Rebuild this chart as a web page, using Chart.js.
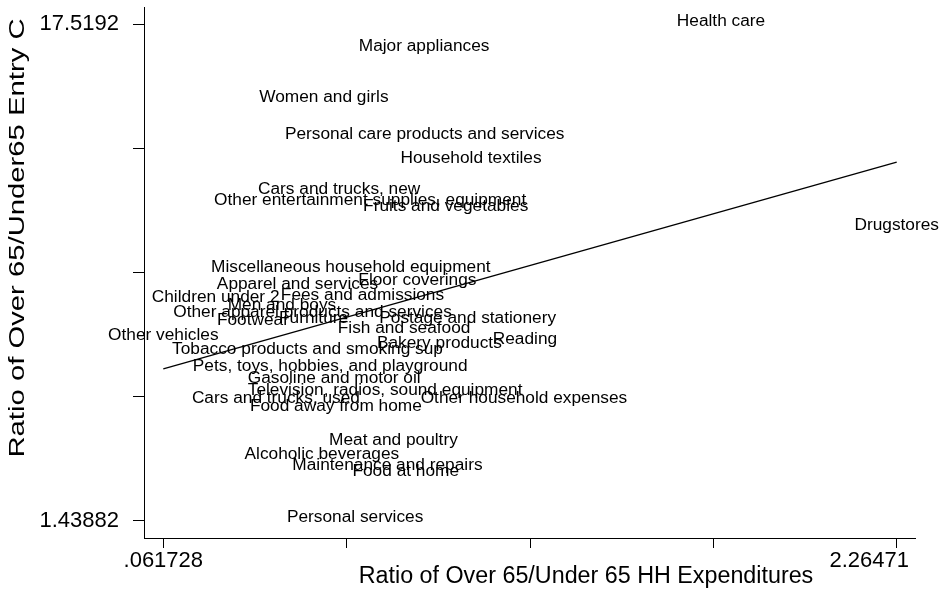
<!DOCTYPE html>
<html>
<head>
<meta charset="utf-8">
<script src="https://cdn.jsdelivr.net/npm/chart.js@4.4.1/dist/chart.umd.min.js"></script>
<style>
  html, body { margin: 0; padding: 0; background: #ffffff; }
  #wrap { width: 951px; height: 598px; position: relative; }
</style>
</head>
<body>
<div id="wrap"><canvas id="ratioChart" width="951" height="598"></canvas></div>
<script>
// categories and their (x, y) ratios
const categories = [
  'Health care', 'Major appliances', 'Women and girls', 'Personal care products and services',
  'Household textiles', 'Cars and trucks, new', 'Other entertainment supplies, equipment',
  'Fruits and vegetables', 'Drugstores', 'Miscellaneous household equipment', 'Floor coverings',
  'Apparel and services', 'Children under 2', 'Fees and admissions', 'Men and boys',
  'Other apparel products and services', 'Footwear', 'Furniture', 'Postage and stationery',
  'Fish and seafood', 'Reading', 'Other vehicles', 'Bakery products',
  'Tobacco products and smoking sup', 'Pets, toys, hobbies, and playground',
  'Gasoline and motor oil', 'Television, radios, sound equipment', 'Cars and trucks, used',
  'Other household expenses', 'Food away from home', 'Meat and poultry', 'Alcoholic beverages',
  'Maintenance and repairs', 'Food at home', 'Personal services'
];
const xValues = [
  1.737, 0.845, 0.544, 0.847, 0.986, 0.590, 0.683, 0.910, 2.26471, 0.625, 0.825,
  0.465, 0.219, 0.660, 0.418, 0.510, 0.331, 0.513, 0.976, 0.785, 1.148, 0.061728, 0.891,
  0.495, 0.563, 0.575, 0.728, 0.400, 1.145, 0.580, 0.753, 0.538, 0.735, 0.790, 0.638
];
const yValues = [
  17.5192, 16.69, 15.04, 13.84, 13.09, 12.06, 11.73, 11.51, 10.89, 9.53, 9.11,
  8.98, 8.56, 8.63, 8.33, 8.08, 7.82, 7.88, 7.91, 7.56, 7.23, 7.33, 7.10,
  6.88, 6.33, 5.94, 5.55, 5.29, 5.29, 5.03, 3.96, 3.48, 3.15, 2.93, 1.43882
];

// fitted line end points
const fitX = [0.061728, 2.26471];
const fitY = [6.36, 13.06];

// axis ticks (only the ends are labelled)
const xTicks = [0.061728, 0.612474, 1.163219, 1.713965, 2.26471];
const xTickLabels = ['.061728', '', '', '', '2.26471         '];
const yTicks = [1.43882, 5.45892, 9.47901, 13.49911, 17.5192];
const yTickLabels = ['1.43882', '', '', '', '17.5192'];

const FONT = "'Liberation Sans', Arial, Helvetica, sans-serif";

// draws each category name centred on its (invisible) point
const pointLabels = {
  id: 'pointLabels',
  afterDatasetsDraw(chart, args, opts) {
    const ctx = chart.ctx;
    const meta = chart.getDatasetMeta(0);
    ctx.save();
    ctx.font = opts.size + 'px ' + FONT;
    ctx.fillStyle = '#000';
    ctx.textAlign = 'center';
    ctx.textBaseline = 'middle';
    meta.data.forEach((pt, i) => {
      ctx.save();
      ctx.translate(pt.x, pt.y + opts.offsetY);
      ctx.scale(opts.stretch, 1);
      ctx.fillText(categories[i], 0, 0);
      ctx.restore();
    });
    ctx.restore();
  }
};

// axis titles sit off-centre in the original, so they are placed by hand
const axisTitles = {
  id: 'axisTitles',
  afterDraw(chart, args, opts) {
    const ctx = chart.ctx;
    const xt = chart.options.scales.x.title.text;
    const yt = chart.options.scales.y.title.text;
    ctx.save();
    ctx.fillStyle = '#000';
    ctx.textAlign = 'center';
    ctx.textBaseline = 'middle';
    ctx.font = opts.xSize + 'px ' + FONT;
    ctx.fillText(xt, opts.xPos[0], opts.xPos[1]);
    ctx.font = opts.ySize + 'px ' + FONT;
    ctx.translate(opts.yPos[0], opts.yPos[1]);
    ctx.rotate(-Math.PI / 2);
    ctx.scale(opts.yStretch, 1);
    ctx.fillText(yt, 0, 0);
    ctx.restore();
  }
};

// keep the plot box where the original has it
function noPad(scale) {
  scale.paddingLeft = 0;
  scale.paddingRight = 0;
  scale.paddingTop = 0;
  scale.paddingBottom = 0;
}

document.addEventListener('DOMContentLoaded', function () {
  const ctx = document.getElementById('ratioChart');

  new Chart(ctx, {
    type: 'scatter',
    data: {
      datasets: [
        {
          label: 'Categories',
          data: categories.map((c, i) => ({ x: xValues[i], y: yValues[i] })),
          pointRadius: 0,
          pointHoverRadius: 0
        },
        {
          type: 'line',
          label: 'Fitted values',
          data: fitX.map((x, i) => ({ x: x, y: fitY[i] })),
          borderColor: '#000',
          borderWidth: 1.3,
          pointRadius: 0,
          fill: false
        }
      ]
    },
    options: {
      responsive: false,
      animation: false,
      layout: {
        padding: { left: 0, top: 7, right: 36, bottom: 0 }
      },
      plugins: {
        legend: { display: false },
        tooltip: { enabled: false },
        pointLabels: { size: 16, stretch: 1.08, offsetY: -3 },
        axisTitles: { xSize: 23.3, ySize: 22, yStretch: 1.33, xPos: [586, 577], yPos: [18, 238] }
      },
      scales: {
        x: {
          type: 'linear',
          min: 0.00375,
          max: 2.31968,
          afterBuildTicks: (scale) => { scale.ticks = xTicks.map(v => ({ value: v })); },
          afterFit: (scale) => { scale.height = 60; noPad(scale); },
          ticks: {
            autoSkip: false,
            maxRotation: 0,
            padding: 0,
            color: '#000',
            font: { family: FONT, size: 22 },
            callback: (v, i) => xTickLabels[i]
          },
          grid: { drawOnChartArea: false, drawTicks: true, tickLength: 10, color: '#000' },
          border: { display: true, color: '#000', width: 1 },
          title: { display: false, text: 'Ratio of Over 65/Under 65 HH Expenditures' }
        },
        y: {
          type: 'linear',
          min: 0.8884,
          max: 18.079,
          afterBuildTicks: (scale) => { scale.ticks = yTicks.map(v => ({ value: v })); },
          afterFit: (scale) => { scale.width = 144; noPad(scale); },
          ticks: {
            autoSkip: false,
            padding: 14,
            color: '#000',
            font: { family: FONT, size: 22 },
            callback: (v, i) => yTickLabels[i]
          },
          grid: { drawOnChartArea: false, drawTicks: true, tickLength: 11, color: '#000' },
          border: { display: true, color: '#000', width: 1 },
          title: { display: false, text: 'Ratio of Over 65/Under65 Entry C' }
        }
      }
    },
    plugins: [pointLabels, axisTitles]
  });
});
</script>
</body>
</html>
